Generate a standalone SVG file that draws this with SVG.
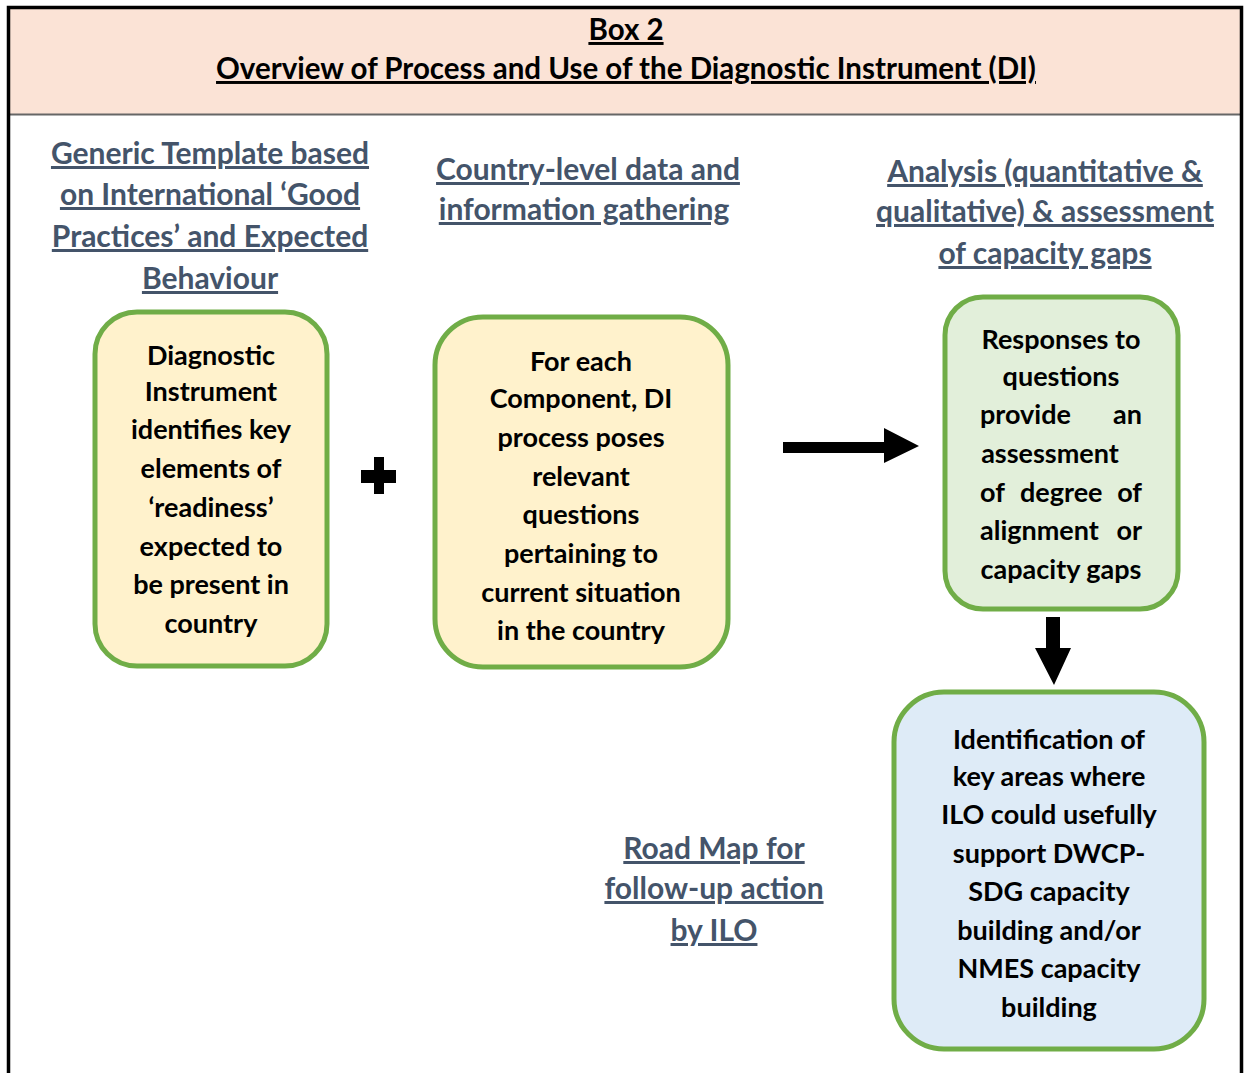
<svg xmlns="http://www.w3.org/2000/svg" width="1244" height="1073" viewBox="0 0 1244 1073">
<style>
.hdr{font-family:Lato,"Open Sans",sans-serif;font-weight:bold;font-size:29.5px;fill:#000;text-anchor:middle;text-decoration:underline}
.lbl{font-family:Lato,"Open Sans",sans-serif;font-weight:bold;font-size:30px;fill:#44546A;text-anchor:middle;text-decoration:underline}
.txt{font-family:Lato,"Open Sans",sans-serif;font-weight:bold;font-size:27px;fill:#000;text-anchor:middle}
.txl{font-family:Lato,"Open Sans",sans-serif;font-weight:bold;font-size:27px;fill:#000}
.box{stroke:#70AD47;stroke-width:5}
</style>
<rect x="0" y="0" width="1244" height="1073" fill="#fff"/>
<g id="header">
<rect x="9" y="8" width="1232" height="106" fill="#FBE3D6"/>
<line x1="9" y1="114.5" x2="1241" y2="114.5" stroke="#666" stroke-width="2"/>
<text class="hdr" x="626" y="40">Box 2</text>
<text class="hdr" x="626" y="79">Overview of Process and Use of the Diagnostic Instrument (DI)</text>
</g>
<g id="frame" fill="none" stroke="#000" stroke-width="3.5">
<path d="M8.5 1073 V7.5 H1241.5 V1073"/>
</g>
<g id="label-template">
<text class="lbl" x="210" y="164">Generic Template based</text>
<text class="lbl" x="210" y="205">on International ‘Good</text>
<text class="lbl" x="210" y="247">Practices’ and Expected</text>
<text class="lbl" x="210" y="289">Behaviour</text>
</g>
<g id="label-country">
<text class="lbl" x="588" y="180">Country-level data and</text>
<text class="lbl" x="584" y="220">information gathering</text>
</g>
<g id="label-analysis">
<text class="lbl" x="1045" y="182">Analysis (quantitative &amp;</text>
<text class="lbl" x="1045" y="222">qualitative) &amp; assessment</text>
<text class="lbl" x="1045" y="264">of capacity gaps</text>
</g>
<g id="label-roadmap">
<text class="lbl" x="714" y="859">Road Map for</text>
<text class="lbl" x="714" y="899">follow-up action</text>
<text class="lbl" x="714" y="941">by ILO</text>
</g>
<g id="node-di">
<rect class="box" x="95" y="312" width="232" height="354" rx="42" fill="#FFF2CC"/>
<text class="txt" x="211" y="365">Diagnostic</text>
<text class="txt" x="211" y="401">Instrument</text>
<text class="txt" x="211" y="439">identifies key</text>
<text class="txt" x="211" y="478">elements of</text>
<text class="txt" x="211" y="517">‘readiness’</text>
<text class="txt" x="211" y="556">expected to</text>
<text class="txt" x="211" y="594">be present in</text>
<text class="txt" x="211" y="633">country</text>
</g>
<g id="node-component">
<rect class="box" x="435" y="317" width="293" height="350" rx="48" fill="#FFF2CC"/>
<text class="txt" x="581" y="371">For each</text>
<text class="txt" x="581" y="408">Component, DI</text>
<text class="txt" x="581" y="447">process poses</text>
<text class="txt" x="581" y="486">relevant</text>
<text class="txt" x="581" y="524">questions</text>
<text class="txt" x="581" y="563">pertaining to</text>
<text class="txt" x="581" y="602">current situation</text>
<text class="txt" x="581" y="640">in the country</text>
</g>
<g id="node-responses">
<rect class="box" x="945" y="297" width="233" height="312" rx="38" fill="#E2EFDA"/>
<text class="txt" x="1061" y="349">Responses to</text>
<text class="txt" x="1061" y="386">questions</text>
<text class="txl" x="980" y="424">provide</text>
<text class="txl" x="1142" y="424" text-anchor="end">an</text>
<text class="txt" x="1050" y="463">assessment</text>
<text class="txl" x="980" y="502">of</text>
<text class="txl" x="1020" y="502">degree</text>
<text class="txl" x="1142" y="502" text-anchor="end">of</text>
<text class="txl" x="980" y="540">alignment</text>
<text class="txl" x="1142" y="540" text-anchor="end">or</text>
<text class="txt" x="1061" y="579">capacity gaps</text>
</g>
<g id="node-identification">
<rect class="box" x="894" y="692" width="310" height="357" rx="50" fill="#DEEBF7"/>
<text class="txt" x="1049" y="749">Identification of</text>
<text class="txt" x="1049" y="786">key areas where</text>
<text class="txt" x="1049" y="824">ILO could usefully</text>
<text class="txt" x="1049" y="863">support DWCP-</text>
<text class="txt" x="1049" y="901">SDG capacity</text>
<text class="txt" x="1049" y="940">building and/or</text>
<text class="txt" x="1049" y="978">NMES capacity</text>
<text class="txt" x="1049" y="1017">building</text>
</g>
<g id="connectors" fill="#000">
<path d="M361 470 H374 V457 H384 V470 H396 V483 H384 V494 H374 V483 H361 Z"/>
<path d="M783 442 H884 V428 L919 446 L884 463 V453 H783 Z"/>
<path d="M1046 617 H1060 V648 H1071 L1054 685 L1035 648 H1046 Z"/>
</g>
</svg>
